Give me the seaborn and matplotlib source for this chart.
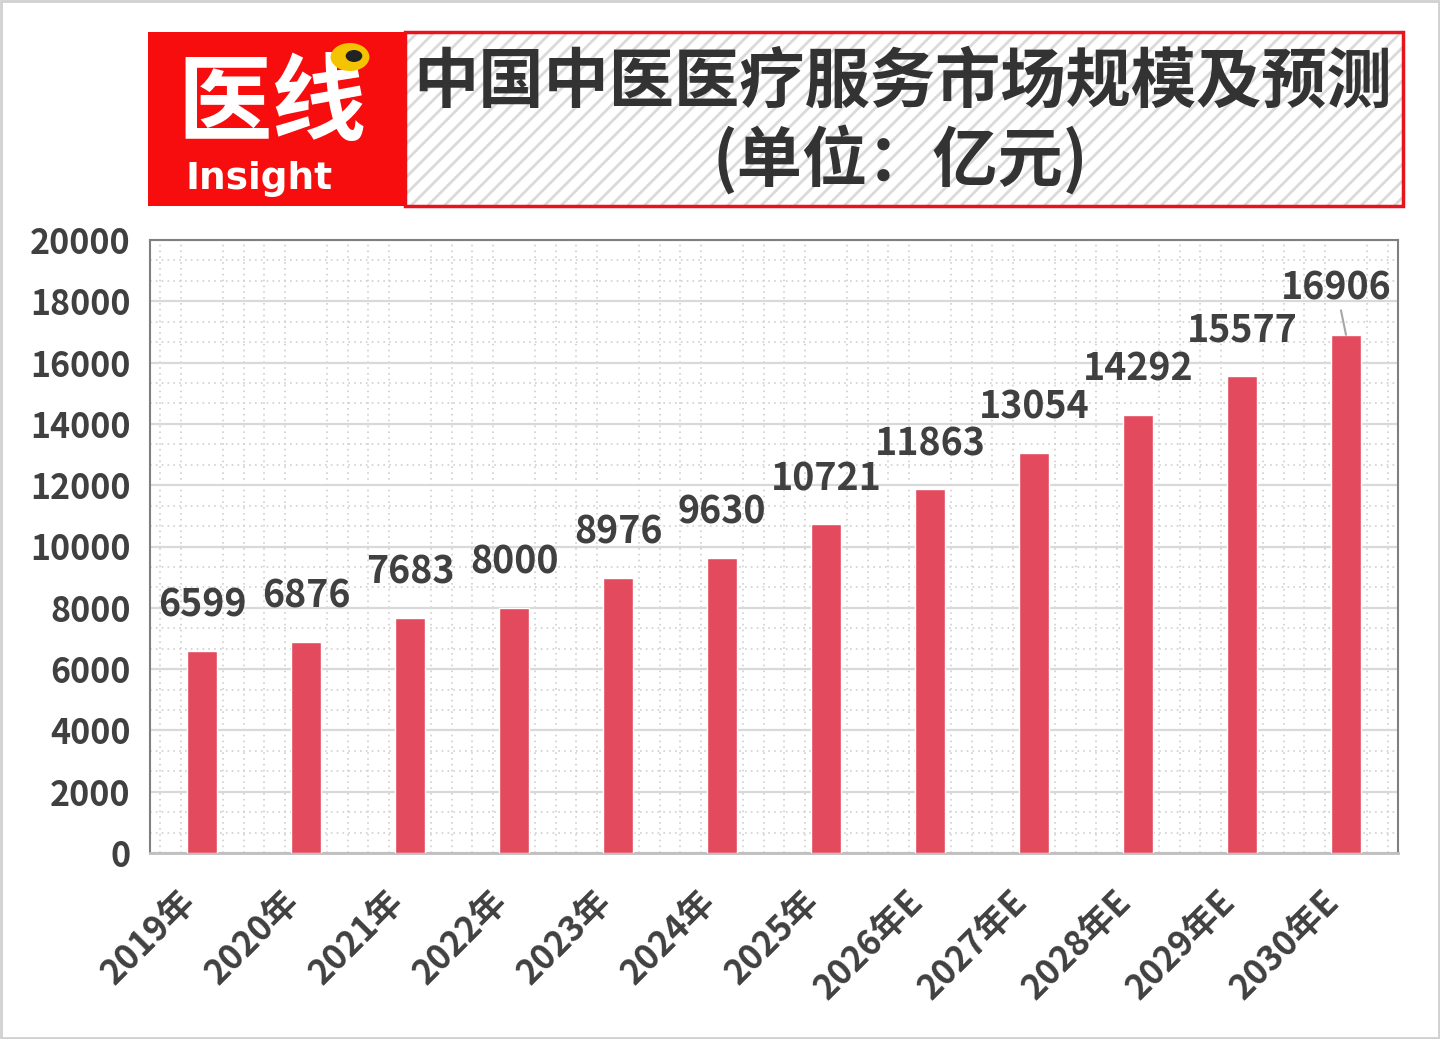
import numpy as np
import pandas as pd
import matplotlib
matplotlib.use('Agg')
import matplotlib.pyplot as plt
import seaborn as sns
from matplotlib.patches import Rectangle, Circle
from matplotlib.ticker import MultipleLocator

years = ['2019年', '2020年', '2021年', '2022年', '2023年', '2024年', '2025年',
         '2026年E', '2027年E', '2028年E', '2029年E', '2030年E']
market = [6599, 6876, 7683, 8000, 8976, 9630, 10721, 11863, 13054, 14292, 15577, 16906]
title_1 = '中国中医医疗服务市场规模及预测'
title_2 = '(单位：亿元)'

sns.set_style('white')
plt.rcParams['font.family'] = ['Noto Sans CJK SC', 'DejaVu Sans']
plt.rcParams['hatch.linewidth'] = 2.0

bar_color = '#E34A5E'
text_color = '#404040'

df = pd.DataFrame({'year': years, 'value': market})

fig = plt.figure(figsize=(14.4, 10.39), dpi=100)
ax = fig.add_axes([150 / 1440, 1 - 853 / 1039, 1248 / 1440, 613 / 1039])

sns.barplot(data=df, x='year', y='value', color=bar_color, saturation=1,
            width=0.29, ax=ax, zorder=3)

ax.set_xlim(-0.5, 11.5)
ax.set_ylim(0, 20000)
ax.yaxis.set_major_locator(MultipleLocator(2000))
ax.yaxis.set_minor_locator(MultipleLocator(2000 / 3))
ax.xaxis.set_minor_locator(MultipleLocator(0.2))
ax.grid(which='major', axis='y', color='#D9D9D9', lw=1.6, zorder=0)
ax.grid(which='minor', axis='both', color='#D0D0D0', lw=1.2, ls=(0, (1, 2.5)), zorder=0)
ax.set_axisbelow(True)
ax.set_xlabel('')
ax.set_ylabel('')

for side in ['top', 'left', 'right']:
    ax.spines[side].set_color('#7F7F7F')
    ax.spines[side].set_linewidth(1.5)
ax.spines['bottom'].set_color('#BFBFBF')
ax.spines['bottom'].set_linewidth(2)

ax.tick_params(axis='both', which='both', length=0)
ax.tick_params(axis='y', pad=14, labelsize=24.5, labelcolor=text_color)
ax.tick_params(axis='x', pad=40, labelsize=25, labelcolor=text_color)
for lab in ax.get_yticklabels():
    lab.set_fontweight('bold')
for lab in ax.get_xticklabels():
    lab.set_fontweight('bold')
    lab.set_rotation(45)
    lab.set_ha('right')
    lab.set_va('bottom')
    lab.set_rotation_mode('anchor')

# data labels
for i, v in enumerate(market):
    if i == len(market) - 1:
        ax.annotate(f'{v}', xy=(i, v), xytext=(-7, 20), textcoords='offset points',
                    ha='center', va='bottom', fontsize=27, fontweight='bold',
                    color=text_color,
                    arrowprops=dict(arrowstyle='-', color='#A6A6A6', lw=1.5,
                                    shrinkA=0, shrinkB=0))
    else:
        ax.annotate(f'{v}', xy=(i, v), xytext=(0, 19), textcoords='offset points',
                    ha='center', va='bottom', fontsize=27, fontweight='bold',
                    color=text_color)

# title banner
W, H = 1440, 1039
def fx(px):
    return px / W
def fy(py):
    return 1 - py / H

fig.patches.append(Rectangle((fx(405), fy(206)), fx(1403) - fx(405), fy(32) - fy(206),
                             transform=fig.transFigure, facecolor='white',
                             edgecolor='#DADADA', hatch='//', lw=0, zorder=1))
fig.patches.append(Rectangle((fx(405), fy(206)), fx(1403) - fx(405), fy(32) - fy(206),
                             transform=fig.transFigure, facecolor='none',
                             edgecolor='#E8141C', lw=2.5, zorder=2))
fig.patches.append(Rectangle((fx(148), fy(206)), fx(405) - fx(148), fy(32) - fy(206),
                             transform=fig.transFigure, facecolor='#F70D0D',
                             edgecolor='none', zorder=2))
fig.text(fx(903), fy(82), title_1, ha='center', va='center', fontsize=47,
         fontweight='bold', color='#333333', zorder=3)
fig.text(fx(900), fy(160), title_2, ha='center', va='center', fontsize=47,
         fontweight='bold', color='#333333', zorder=3)

# logo
fig.text(fx(272), fy(105), '医线', ha='center', va='center', fontsize=68,
         fontweight='bold', color='white', zorder=3)
fig.text(fx(259), fy(179), 'Insight', ha='center', va='center', fontsize=27,
         fontweight='bold', color='white', family='DejaVu Sans', zorder=4)
fig.patches.append(Circle((fx(350), fy(57)), 14 / H, transform=fig.transFigure,
                          facecolor='#F5C400', edgecolor='none', zorder=4))
fig.patches.append(Circle((fx(354), fy(56)), 6 / H, transform=fig.transFigure,
                          facecolor='#222222', edgecolor='none', zorder=5))

# outer frame
fig.patches.append(Rectangle((0.0005, 0.0007), 0.999, 0.9986, transform=fig.transFigure,
                             facecolor='none', edgecolor='#D0D0D0', lw=2, zorder=0))

fig.savefig('out.png', dpi=100)
